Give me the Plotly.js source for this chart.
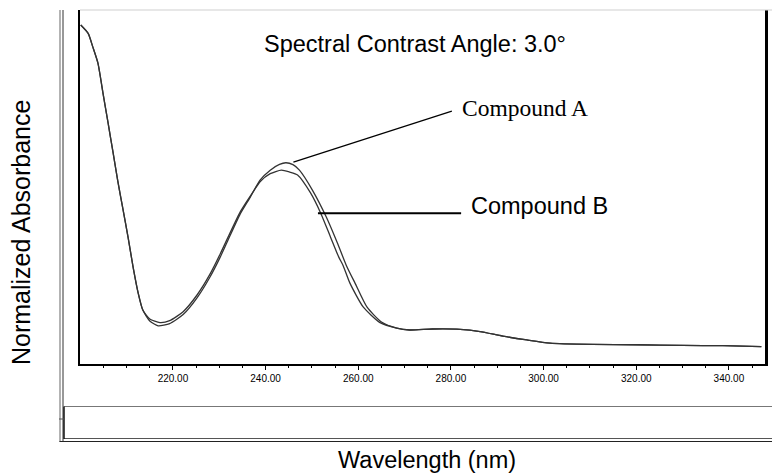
<!DOCTYPE html>
<html>
<head>
<meta charset="utf-8">
<script src="https://cdn.plot.ly/plotly-3.0.1.min.js"></script>
<style>html,body{margin:0;padding:0;background:#fff;}#chart{width:772px;height:474px;}</style>
</head>
<body>
<div id="chart"></div>
<script>
// ---- data ----
const wavelengthA = [200.1,201.7,202.7,203.8,204.9,206.0,207.1,208.1,209.2,210.3,211.4,212.5,213.5,215.0,216.8,219.3,222.2,225.2,228.0,230.2,231.7,234.5,236.7,238.8,241.0,243.0,244.4,245.9,247.3,250.1,253.1,255.5,257.4,259.3,261.9,265.0,268.3,271.1,276.0,282.0,286.3,291.2,296.4,301.4,310.6,320.0,330.0,338.7,347.0];
const absorbanceA = [1.000,0.974,0.932,0.882,0.788,0.695,0.601,0.514,0.427,0.340,0.246,0.165,0.112,0.078,0.063,0.070,0.098,0.150,0.215,0.277,0.324,0.411,0.464,0.517,0.548,0.566,0.571,0.565,0.548,0.486,0.402,0.321,0.252,0.196,0.121,0.075,0.056,0.050,0.053,0.052,0.045,0.031,0.019,0.009,0.005,0.004,0.002,0.001,-0.002];
const wavelengthB = [200.1,201.7,202.7,203.8,204.9,206.0,207.1,208.1,209.2,210.3,211.4,212.5,213.5,215.0,217.2,219.3,222.2,225.2,228.0,230.2,231.7,234.5,236.7,238.8,241.0,243.4,245.2,246.9,249.7,251.9,254.0,255.8,256.7,258.2,261.1,264.7,268.3,271.1,276.0,282.0,286.3,291.2,296.4,301.4,310.6,320.0,330.0,338.7,347.0];
const absorbanceB = [1.000,0.974,0.932,0.882,0.788,0.695,0.601,0.514,0.427,0.340,0.246,0.165,0.112,0.084,0.073,0.079,0.107,0.159,0.224,0.287,0.333,0.417,0.467,0.512,0.537,0.548,0.542,0.533,0.477,0.414,0.340,0.277,0.252,0.196,0.121,0.073,0.056,0.050,0.053,0.052,0.045,0.031,0.019,0.009,0.005,0.004,0.002,0.001,-0.002];
const tickValues = [220,240,260,280,300,320,340];
const tickLabels = ["220.00","240.00","260.00","280.00","300.00","320.00","340.00"];
const seriesNames = ["Compound A","Compound B"];
const headline = "Spectral Contrast Angle: 3.0\u00b0";
const xTitle = "Wavelength (nm)";
const yTitle = "Normalized Absorbance";
// callout anchors (wavelength, absorbance)
const calloutA = [246.0, 0.573, 280.2, 0.732];
const calloutB = [251.3, 0.414, 282.2, 0.414];

const SANS = "Liberation Sans, Arial, sans-serif";
const SERIF = "Liberation Serif, Times New Roman, serif";

const minorVals = [];
for (let v = 205; v <= 345; v += 5) if (v % 20 !== 0) minorVals.push(v);

const traces = [
  {x: wavelengthA, y: absorbanceA, name: seriesNames[0], mode: "lines",
   line: {color: "#333333", width: 1.3, shape: "spline", smoothing: 0.6}},
  {x: wavelengthB, y: absorbanceB, name: seriesNames[1], mode: "lines",
   line: {color: "#333333", width: 1.3, shape: "spline", smoothing: 0.6}}
];

const px = v => (v - 80) / 685;     // frame helpers (paper coords)
const py = v => (364 - v) / 354;

const shapes = [
  {type:"line", xref:"paper", yref:"paper", x0:0, x1:px(772), y0:1, y1:1, line:{color:"#cfcfcf", width:1}},
  {type:"line", xref:"paper", yref:"paper", x0:px(60), x1:px(60), y0:1, y1:py(442), line:{color:"#666", width:1}},
  {type:"line", xref:"paper", yref:"paper", x0:px(63), x1:px(63), y0:1, y1:py(442), line:{color:"#333", width:1}},
  {type:"line", xref:"paper", yref:"paper", x0:px(59.5), x1:px(772), y0:py(441.5), y1:py(441.5), line:{color:"#222", width:1}},
  {type:"line", xref:"paper", yref:"paper", x0:px(64), x1:px(772), y0:py(438.5), y1:py(438.5), line:{color:"#555", width:1}},
  {type:"line", xref:"paper", yref:"paper", x0:px(64), x1:px(772), y0:py(406.5), y1:py(406.5), line:{color:"#777", width:1}},
  {type:"line", xref:"paper", yref:"paper", x0:px(64), x1:px(64), y0:py(406.5), y1:py(439), line:{color:"#111", width:1.5}},
  {type:"line", xref:"paper", yref:"paper", x0:px(59), x1:px(64), y0:py(419), y1:py(419), line:{color:"#555", width:1}},
  {type:"line", xref:"x", yref:"y", x0:calloutA[0], y0:calloutA[1], x1:calloutA[2], y1:calloutA[3], line:{color:"#000", width:1.2}},
  {type:"line", xref:"x", yref:"y", x0:calloutB[0], y0:calloutB[1], x1:calloutB[2], y1:calloutB[3], line:{color:"#000", width:2}}
];

const annotations = [
  {text: headline, xref:"x", yref:"y", x:239.3, y:0.941, xanchor:"left", yanchor:"middle", showarrow:false,
   font:{family:SANS, size:23.5, color:"#000"}},
  {text: seriesNames[0], xref:"x", yref:"y", x:282.0, y:0.741, xanchor:"left", yanchor:"middle", showarrow:false,
   font:{family:SERIF, size:23.5, color:"#000"}},
  {text: seriesNames[1], xref:"x", yref:"y", x:283.8, y:0.437, xanchor:"left", yanchor:"middle", showarrow:false,
   font:{family:SANS, size:23.5, color:"#000"}},
  {text: xTitle, xref:"paper", yref:"paper", x:px(427), y:py(459.5), xanchor:"center", yanchor:"middle", showarrow:false,
   font:{family:SANS, size:23.5, color:"#000"}},
  {text: yTitle, xref:"paper", yref:"paper", x:px(21), y:py(233), xanchor:"center", yanchor:"middle", showarrow:false,
   textangle:-90, font:{family:SANS, size:25, color:"#000"}}
];

const layout = {
  width: 772, height: 474,
  margin: {l:80, r:7, t:10, b:110, pad:0},
  paper_bgcolor: "#fff", plot_bgcolor: "#fff",
  showlegend: false,
  xaxis: {
    range: [199.94, 347.79], tickmode: "array", tickvals: tickValues, ticktext: tickLabels,
    ticks: "outside", ticklen: 4, tickwidth: 1, tickcolor: "#000",
    tickfont: {family: SANS, size: 10, color: "#000"},
    minor: {tickmode: "array", tickvals: minorVals, ticks: "outside", ticklen: 2, tickwidth: 1, tickcolor: "#000", showgrid:false},
    showline: true, linecolor: "#000", linewidth: 2, mirror: false,
    showgrid: false, zeroline: false, fixedrange: true
  },
  yaxis: {
    range: [-0.056, 1.047], showticklabels: false, ticks: "",
    showline: true, linecolor: "#000", linewidth: 2.5, mirror: true,
    showgrid: false, zeroline: false, fixedrange: true
  },
  shapes: shapes,
  annotations: annotations
};

Plotly.newPlot("chart", traces, layout, {displayModeBar: false, staticPlot: true});
</script>
</body>
</html>
